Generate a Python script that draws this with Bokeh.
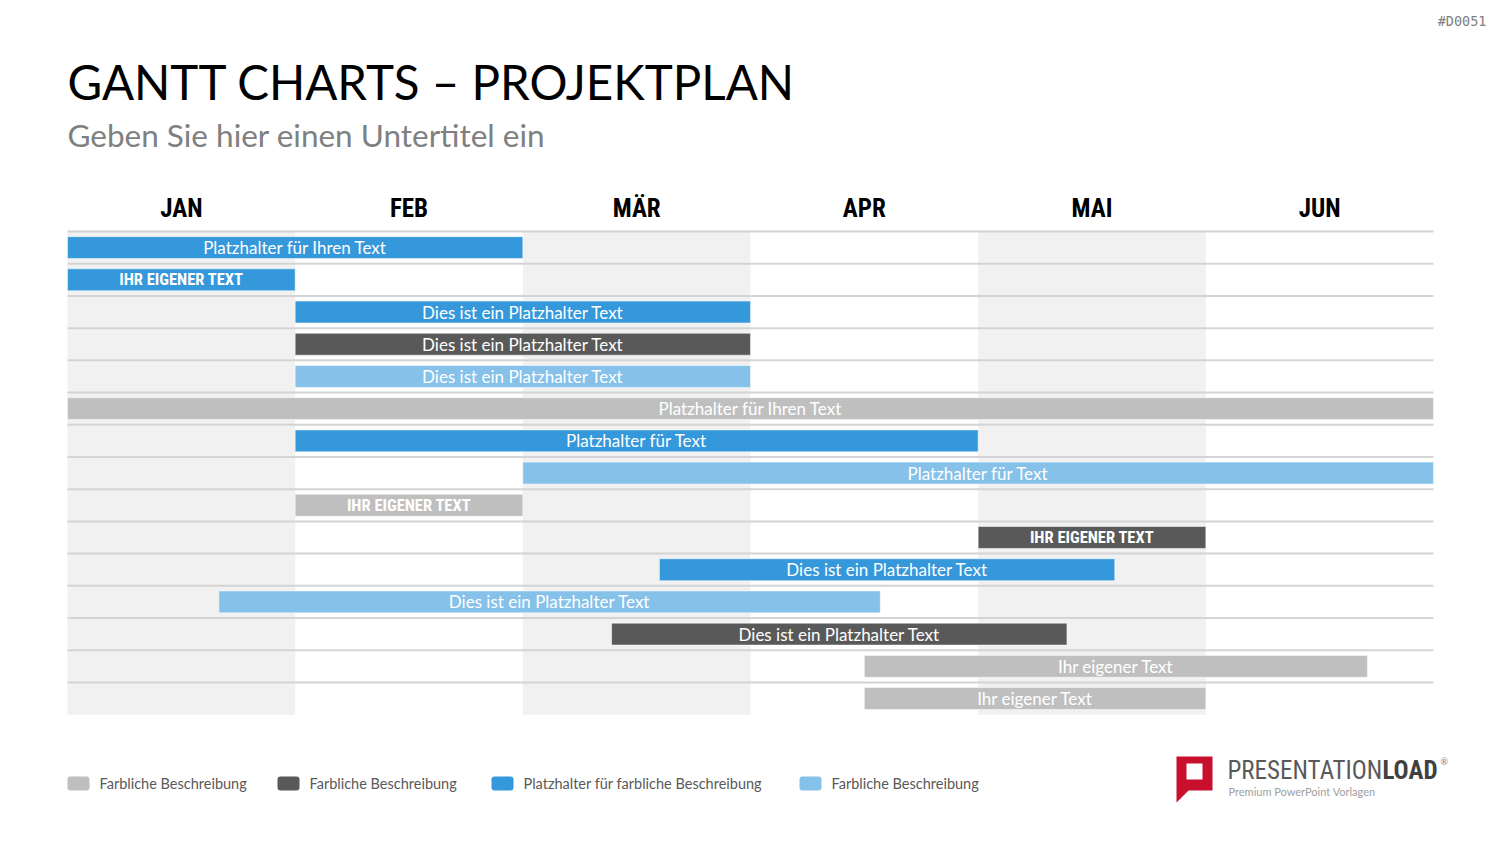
from bokeh.plotting import figure
from bokeh.models import Range1d, ColumnDataSource
from bokeh.core.properties import value
from bokeh.embed import file_html
from bokeh.resources import INLINE

# ---------------- data ----------------
months = ["JAN", "FEB", "MÄR", "APR", "MAI", "JUN"]
task_labels = [
    "Platzhalter für Ihren Text",
    "IHR EIGENER TEXT",
    "Dies ist ein Platzhalter Text",
    "Dies ist ein Platzhalter Text",
    "Dies ist ein Platzhalter Text",
    "Platzhalter für Ihren Text",
    "Platzhalter für Text",
    "Platzhalter für Text",
    "IHR EIGENER TEXT",
    "IHR EIGENER TEXT",
    "Dies ist ein Platzhalter Text",
    "Dies ist ein Platzhalter Text",
    "Dies ist ein Platzhalter Text",
    "Ihr eigener Text",
    "Ihr eigener Text",
]
task_start = [0, 0, 1, 1, 1, 0, 1, 2, 1, 4, 2.6, 0.665, 2.39, 3.5, 3.5]
task_end = [2, 1, 3, 3, 3, 6, 4, 6, 2, 5, 4.6, 3.57, 4.39, 5.71, 5.0]
task_kind = ["blau", "blau", "blau", "dunkel", "hellblau", "grau", "blau",
             "hellblau", "grau", "dunkel", "blau", "hellblau", "dunkel", "grau", "grau"]
task_bold = [False, True, False, False, False, False, False, False, True, True,
             False, False, False, False, False]
legend_kinds = ["grau", "dunkel", "blau", "hellblau"]
legend_labels = ["Farbliche Beschreibung", "Farbliche Beschreibung",
                 "Platzhalter für farbliche Beschreibung", "Farbliche Beschreibung"]

# ---------------- styles ----------------
COLORS = {"blau": "#3498db", "dunkel": "#595959", "hellblau": "#85c1e9", "grau": "#bfbfbf"}
BODY = "Lato"
COND = "'Roboto Condensed', 'Liberation Sans Narrow', 'DejaVu Sans Condensed', Roboto"

W_PX, H_PX = 1500, 844
X0, X1 = 67.0, 1433.0
MW = (X1 - X0) / 6.0          # pixels per month
Y0 = 231.0                    # top of first row
RH = 32.21                    # row height in pixels


def X(px):
    return (px - X0) / MW


def Y(py):
    return (py - Y0) / RH


p = figure(width=W_PX, height=H_PX, output_backend="svg", toolbar_location=None,
           x_axis_type=None, y_axis_type=None, min_border=0,
           x_range=Range1d(X(0), X(W_PX)), y_range=Range1d(Y(H_PX), Y(0)))
p.outline_line_color = None
p.background_fill_color = "white"
p.border_fill_color = "white"

n = len(task_labels)

# month shading (alternate columns)
shade_left = [i for i in range(len(months)) if i % 2 == 0]
p.quad(left=shade_left, right=[i + 1 for i in shade_left], top=[0] * len(shade_left),
       bottom=[n] * len(shade_left), fill_color="#f1f1f1", line_color=None)

# row separator lines
p.segment(x0=[0] * n, x1=[len(months)] * n, y0=list(range(n)), y1=list(range(n)),
          line_color="#d4d4d4", line_width=2)

# bars
src = ColumnDataSource(dict(
    y=[i + 0.5 for i in range(n)], left=task_start, right=task_end,
    color=[COLORS[k] for k in task_kind]))
p.hbar(y="y", left="left", right="right", height=0.68, fill_color="color",
       line_color="white", line_alpha=0.5, line_width=1, source=src)

normal_idx = [i for i in range(n) if not task_bold[i]]
bold_idx = [i for i in range(n) if task_bold[i]]
p.text(x=[(task_start[i] + task_end[i]) / 2 for i in normal_idx],
       y=[i + 0.5 for i in normal_idx], text=[task_labels[i] for i in normal_idx],
       text_color="white", text_font=value(BODY), text_font_size="17px",
       text_align="center", text_baseline="middle")
p.text(x=[(task_start[i] + task_end[i]) / 2 for i in bold_idx],
       y=[i + 0.5 for i in bold_idx], text=[task_labels[i] for i in bold_idx],
       text_color="white", text_font=value(COND), text_font_style="bold",
       text_font_size="16.5px", text_align="center", text_baseline="middle")

# month headers
p.text(x=[i + 0.5 for i in range(len(months))], y=[Y(208)] * len(months), text=months,
       text_color="black", text_font=value(COND), text_font_style="bold",
       text_font_size="25px", text_align="center", text_baseline="middle")

# title, subtitle, id
p.text(x=[X(67)], y=[Y(80.5)], text=["GANTT CHARTS – PROJEKTPLAN"], text_color="black",
       text_font=value(BODY), text_font_size="47.5px", text_baseline="middle")
p.text(x=[X(67)], y=[Y(134.5)], text=["Geben Sie hier einen Untertitel ein"],
       text_color="#808080", text_font=value(BODY), text_font_size="31.5px",
       text_baseline="middle")
p.text(x=[X(1486)], y=[Y(20)], text=["#D0051"], text_color="#808080",
       text_font=value("DejaVu Sans Mono"), text_font_size="13.5px",
       text_align="right", text_baseline="middle")

# legend
leg_sq_px = [67, 277, 491, 799]
p.quad(left=[X(v) for v in leg_sq_px], right=[X(v + 22) for v in leg_sq_px],
       top=[Y(776)] * 4, bottom=[Y(790)] * 4,
       fill_color=[COLORS[k] for k in legend_kinds], line_color=None, border_radius=3)
p.text(x=[X(v + 32) for v in leg_sq_px], y=[Y(783)] * 4, text=legend_labels,
       text_color="#595959", text_font=value(BODY), text_font_size="14.5px",
       text_baseline="middle")

# logo
p.patch(x=[X(v) for v in [1176, 1212, 1212, 1188, 1176, 1176]],
        y=[Y(v) for v in [756, 756, 790, 790, 802, 756]],
        fill_color="#c8102e", line_color=None)
p.quad(left=[X(1186)], right=[X(1202)], top=[Y(763)], bottom=[Y(779)],
       fill_color="white", line_color=None)
p.text(x=[X(1227)], y=[Y(770)], text=["PRESENTATION"], text_color="#595959",
       text_font=value(COND), text_font_size="25px", text_baseline="middle")
p.text(x=[X(1437)], y=[Y(770)], text=["LOAD"], text_color="#404040",
       text_font=value(COND), text_font_style="bold", text_font_size="25px",
       text_align="right", text_baseline="middle")
p.text(x=[X(1440)], y=[Y(761)], text=["®"], text_color="#808080",
       text_font=value(BODY), text_font_size="9px", text_baseline="middle")
p.text(x=[X(1228)], y=[Y(791)], text=["Premium PowerPoint Vorlagen"], text_color="#a0a0a0",
       text_font=value(BODY), text_font_size="11px", text_baseline="middle")

open("out.html", "w").write(file_html(p, INLINE))
